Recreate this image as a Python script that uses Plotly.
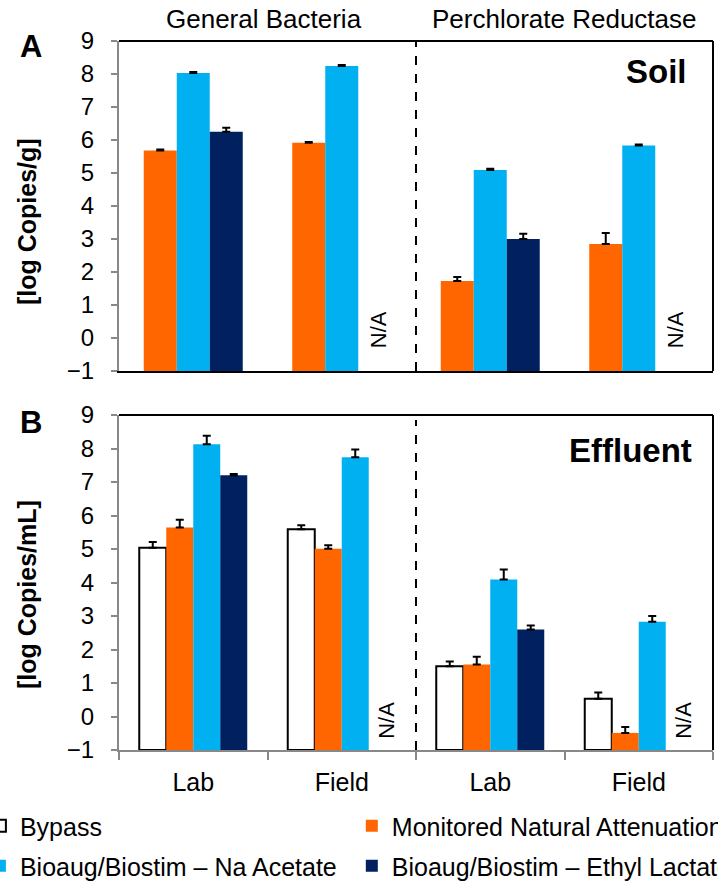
import plotly.graph_objects as go

# ---------------- data ----------------
groups = ["Lab", "Field", "Lab", "Field"]
panel_top_titles = ["General Bacteria", "Perchlorate Reductase"]
series_names = ["Bypass", "Monitored Natural Attenuation",
                "Bioaug/Biostim – Na Acetate", "Bioaug/Biostim – Ethyl Lactate"]

# Soil (panel A) - no bypass
soil_mna = [5.68, 5.92, 1.73, 2.85]
soil_mna_err = [0.03, 0.02, 0.12, 0.33]
soil_na = [8.03, 8.24, 5.09, 5.83]
soil_na_err = [0.03, 0.03, 0.04, 0.03]
soil_el = [6.25, None, 3.00, None]
soil_el_err = [0.12, 0, 0.16, 0]

# Effluent (panel B)
eff_bypass = [5.04, 5.59, 1.50, 0.53]
eff_bypass_err = [0.17, 0.12, 0.14, 0.19]
eff_mna = [5.64, 5.01, 1.55, -0.49]
eff_mna_err = [0.23, 0.10, 0.23, 0.18]
eff_na = [8.13, 7.74, 4.09, 2.83]
eff_na_err = [0.25, 0.23, 0.30, 0.17]
eff_el = [7.20, None, 2.60, None]
eff_el_err = [0.04, 0, 0.12, 0]

BASE = -1
colors = {"bypass": "white", "mna": "#FF6600", "na": "#00B0F0", "el": "#002060"}
FONT = "Arial, Liberation Sans, sans-serif"
W, H = 718, 882

def lengths(vals):
    return [None if v is None else v - BASE for v in vals]

x = list(range(len(groups)))
fig = go.Figure()

def add_bar(vals, errs, color, name, xa, ya, width, offset, legend=None, outline=False):
    fig.add_trace(go.Bar(
        x=x, y=lengths(vals), base=BASE, width=width, offset=offset,
        name=name, xaxis=xa, yaxis=ya,
        marker=dict(color=color,
                    line=dict(color="black", width=2 if outline else 0)),
        error_y=dict(type="data", symmetric=False, array=errs,
                     arrayminus=[0] * len(errs), color="black",
                     thickness=2, width=4),
        showlegend=legend is not None, legend=legend if legend else "legend",
    ))

# top panel: 3 slots per group
wt = 2 / 9
for i, (v, e, c) in enumerate([(soil_mna, soil_mna_err, colors["mna"]),
                               (soil_na, soil_na_err, colors["na"]),
                               (soil_el, soil_el_err, colors["el"])]):
    add_bar(v, e, c, series_names[i + 1], "x", "y", wt, (i - 1.5) * wt)

# bottom panel: 4 slots per group
wb = 2 / 11
legs = ["legend", "legend2", "legend3", "legend4"]
for i, (v, e, c) in enumerate([(eff_bypass, eff_bypass_err, colors["bypass"]),
                               (eff_mna, eff_mna_err, colors["mna"]),
                               (eff_na, eff_na_err, colors["na"]),
                               (eff_el, eff_el_err, colors["el"])]):
    add_bar(v, e, c, series_names[i], "x2", "y2", wb, (i - 2) * wb,
            legend=legs[i], outline=(i == 0))

xd = [119 / W, 713 / W]
top_dom = [1 - 371 / H, 1 - 41 / H]
bot_dom = [1 - 750 / H, 1 - 415 / H]

yax = dict(range=[-1, 9], dtick=1, tick0=-1, showgrid=False, zeroline=False,
           showline=True, linecolor="#888888", linewidth=2,
           ticks="outside", ticklen=6, tickwidth=2, tickcolor="#888888",
           tickfont=dict(size=24, color="black", family=FONT),
           ticklabelstandoff=12)

fig.update_layout(
    width=W, height=H, margin=dict(l=0, r=0, t=0, b=0, autoexpand=False),
    paper_bgcolor="white", plot_bgcolor="white", barmode="overlay",
    font=dict(family=FONT, color="black"),
    xaxis=dict(domain=xd, range=[-0.5, 3.5], anchor="y", showticklabels=False,
               showgrid=False, zeroline=False, showline=True, linecolor="black",
               linewidth=2, ticks=""),
    yaxis=dict(domain=top_dom, anchor="x", **yax),
    xaxis2=dict(domain=xd, range=[-0.5, 3.5], anchor="y2", tickvals=x,
                ticktext=groups, ticks="", showgrid=False, zeroline=False,
                showline=True, linecolor="#888888", linewidth=2,
                tickfont=dict(size=25, color="black", family=FONT),
                ticklabelstandoff=9,
                minor=dict(tickvals=[-0.5, 0.5, 1.5, 2.5, 3.5], ticks="outside",
                           ticklen=8, tickwidth=2, tickcolor="#888888")),
    yaxis2=dict(domain=bot_dom, anchor="x2", **yax),
)

legfont = dict(size=25, color="black", family=FONT)
leg_pos = [(-0.028, 1 - 826 / H), (0.49, 1 - 826 / H),
           (-0.028, 1 - 866 / H), (0.49, 1 - 866 / H)]
for name, (lx, ly) in zip(legs, leg_pos):
    fig.update_layout({name: dict(x=lx, y=ly, xanchor="left", yanchor="middle",
                                  font=legfont, bgcolor="rgba(0,0,0,0)",
                                  orientation="h")})

shapes = []
# borders: top & right black for both panels, dashed divider
for xr, yr in [("x", "y"), ("x2", "y2")]:
    shapes.append(dict(type="line", xref=f"{xr} domain", yref=f"{yr} domain",
                       x0=0, x1=1, y0=1, y1=1, line=dict(color="black", width=2)))
    shapes.append(dict(type="line", xref=f"{xr} domain", yref=f"{yr} domain",
                       x0=1, x1=1, y0=0, y1=1, line=dict(color="black", width=2)))
    shapes.append(dict(type="line", xref=xr, yref=f"{yr} domain",
                       x0=1.5, x1=1.5, y0=0, y1=0.985 if xr == "x2" else 1,
                       line=dict(color="black", width=2, dash="dash")))
fig.update_layout(shapes=shapes)

ann = []
def pa(text, px, py, size, bold=False, xanchor="center", angle=0):
    ann.append(dict(text=f"<b>{text}</b>" if bold else text, x=px / W, y=1 - py / H,
                    xref="paper", yref="paper", xanchor=xanchor, yanchor="middle",
                    showarrow=False, textangle=angle,
                    font=dict(size=size, color="black", family=FONT)))

pa("A", 31, 47, 31, bold=True)
pa("B", 31, 422, 31, bold=True)
pa("Soil", 689, 71, 33, bold=True, xanchor="right")
pa("Effluent", 694, 450, 33, bold=True, xanchor="right")
pa(panel_top_titles[0], 264, 19, 26)
pa(panel_top_titles[1], 564, 19, 26)
pa("[log Copies/g]", 27, 222, 25, bold=True, angle=-90)
pa("[log Copies/mL]", 27, 595, 25, bold=True, angle=-90)

# N/A labels at missing slots
for gi, v in enumerate(soil_el):
    if v is None:
        ann.append(dict(text="N/A", x=gi + (2 - 1.5 + 0.5) * wt, y=0.26, xref="x", yref="y",
                        showarrow=False, textangle=-90, xshift=4,
                        font=dict(size=22, color="black", family=FONT)))
for gi, v in enumerate(eff_el):
    if v is None:
        ann.append(dict(text="N/A", x=gi + (3 - 2 + 0.5) * wb, y=-0.12, xref="x2", yref="y2",
                        showarrow=False, textangle=-90, xshift=4,
                        font=dict(size=22, color="black", family=FONT)))
fig.update_layout(annotations=ann)

fig.write_html("out.html")
